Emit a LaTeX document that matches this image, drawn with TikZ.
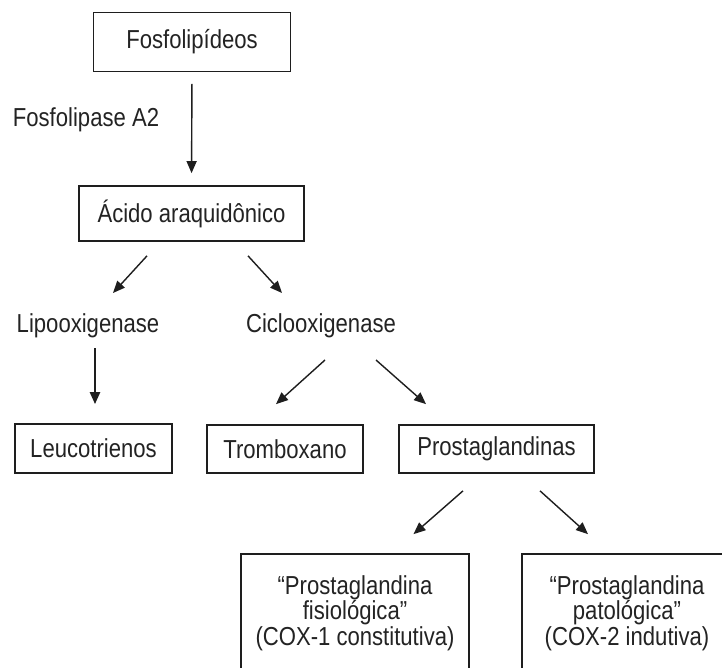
\documentclass[tikz,border=0pt]{standalone}
\usepackage{fontspec}
\setmainfont[FakeStretch=0.85]{Liberation Sans}
\usetikzlibrary{arrows.meta}
\definecolor{flink}{RGB}{30,30,30}
\definecolor{fltext}{RGB}{35,35,35}

\begin{document}
\begin{tikzpicture}[x=1pt, y=-1pt,
    box/.style={draw=flink, line width=1.7pt, inner sep=0pt, text=fltext, font=\fontsize{26}{30}\selectfont},
    bigbox/.style={box, align=center, font=\fontsize{26}{23.5}\selectfont},
    lbl/.style={text=fltext, font=\fontsize{26}{30}\selectfont},
    arr/.style={-{Triangle[length=12pt, width=10pt]}, line width=1.4pt, draw=flink},
    fatarr/.style={arr, line width=2.3pt}]
                \useasboundingbox[fill=white] (0,0) rectangle (722,668);
                \clip (0,0) rectangle (722,668);

                % Top of the pathway
                \node[box, minimum width=197pt, minimum height=59pt] (fosfo) at (192,42) {Fosfolipídeos};
                \node[lbl] (fla2) at (86,120) {Fosfolipase A2};
                \node[box, minimum width=225pt, minimum height=55pt] (acido) at (191.5,213.5) {Ácido araquidônico};

                % Enzymes
                \node[lbl] (lipo) at (88,326) {Lipooxigenase};
                \node[lbl] (ciclo) at (321,326) {Ciclooxigenase};

                % Products
                \node[box, minimum width=157pt, minimum height=49pt] (leuco) at (93.5,448.5) {Leucotrienos};
                \node[box, minimum width=156pt, minimum height=48pt] (trombo) at (285,449) {Tromboxano};
                \node[box, minimum width=195pt, minimum height=48pt] (prosta) at (496.5,449) {Prostaglandinas};

                \node[bigbox, minimum width=228pt, minimum height=118pt] (fisio) at (355,613) {“Prostaglandina\\fisiológica"\\(COX-1 constitutiva)};
                \node[bigbox, minimum width=210pt, minimum height=118pt] (pato) at (627,613) {“Prostaglandina\\patológica"\\(COX-2 indutiva)};

                % Arrows
                \draw[arr, shorten <=11.5pt, shorten >=12pt] (fosfo.south) -- (acido.north);
                \draw[arr] ([shift={(-44.5,14)}]acido.south) -- ([shift={(25,-33)}]lipo.center);
                \draw[arr] ([shift={(56.5,14)}]acido.south) -- ([shift={(-39,-33)}]ciclo.center);
                \draw[fatarr] ([shift={(7,22)}]lipo.center) -- ([shift={(1.5,-19)}]leuco.north);
                \draw[arr] ([shift={(4,34)}]ciclo.center) -- ([shift={(-9,-20)}]trombo.north);
                \draw[arr] ([shift={(55,34)}]ciclo.center) -- ([shift={(-70.5,-20)}]prosta.north);
                \draw[arr] ([shift={(-33.5,17)}]prosta.south) -- ([shift={(58.5,-19)}]fisio.north);
                \draw[arr] ([shift={(43.5,17)}]prosta.south) -- ([shift={(-39,-19)}]pato.north);
\end{tikzpicture}
\end{document}
